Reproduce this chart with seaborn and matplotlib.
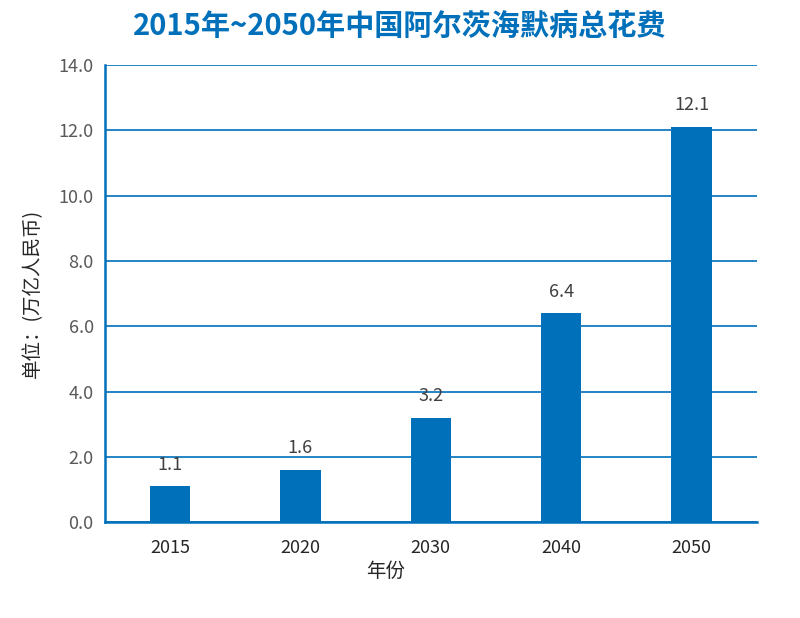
import matplotlib
matplotlib.use('Agg')
import matplotlib.pyplot as plt
import seaborn as sns
import pandas as pd

# data
years = ['2015', '2020', '2030', '2040', '2050']
cost = [1.1, 1.6, 3.2, 6.4, 12.1]

blue = '#0070BA'

sns.set_theme(style='white')
plt.rcParams['font.family'] = ['Noto Sans CJK SC', 'DejaVu Sans']

df = pd.DataFrame({'year': years, 'cost': cost})

fig = plt.figure(figsize=(8, 6.18), dpi=100)
ax = fig.add_axes([0.131, 0.155, 0.815, 0.740])

sns.barplot(data=df, x='year', y='cost', color=blue, width=0.31,
            saturation=1, linewidth=0, ax=ax, zorder=3)

ax.set_ylim(0, 14)
ax.set_yticks([0, 2, 4, 6, 8, 10, 12, 14])
ax.set_yticklabels(['%.1f' % v for v in ax.get_yticks()], color='#595959', fontsize=13)
ax.tick_params(axis='x', labelsize=13, labelcolor='#262626', pad=12)
ax.tick_params(axis='y', pad=8)
ax.tick_params(length=0)

ax.yaxis.grid(True, color=blue, linewidth=1.2, zorder=0)
ax.set_axisbelow(True)
for s in ['right', 'top']:
    ax.spines[s].set_visible(False)
for s in ['left', 'bottom']:
    ax.spines[s].set_color(blue)
    ax.spines[s].set_linewidth(1.8)

# 数据标签
for i, v in enumerate(cost):
    ax.annotate('%.1f' % v, (i, v), xytext=(0, 9), textcoords='offset points',
                ha='center', va='bottom', fontsize=13, color='#404040')

ax.set_xlabel('年份', fontsize=14, color='#262626')
ax.xaxis.set_label_coords(0.43, -0.085)
ax.set_ylabel('单位：(万亿人民币)', fontsize=14, color='#262626')
ax.yaxis.set_label_coords(-0.095, 0.5)

fig.suptitle('2015年~2050年中国阿尔茨海默病总花费', x=0.5, y=0.982,
             fontsize=21, fontweight='bold', color=blue)

fig.savefig('out.png', dpi=100)
